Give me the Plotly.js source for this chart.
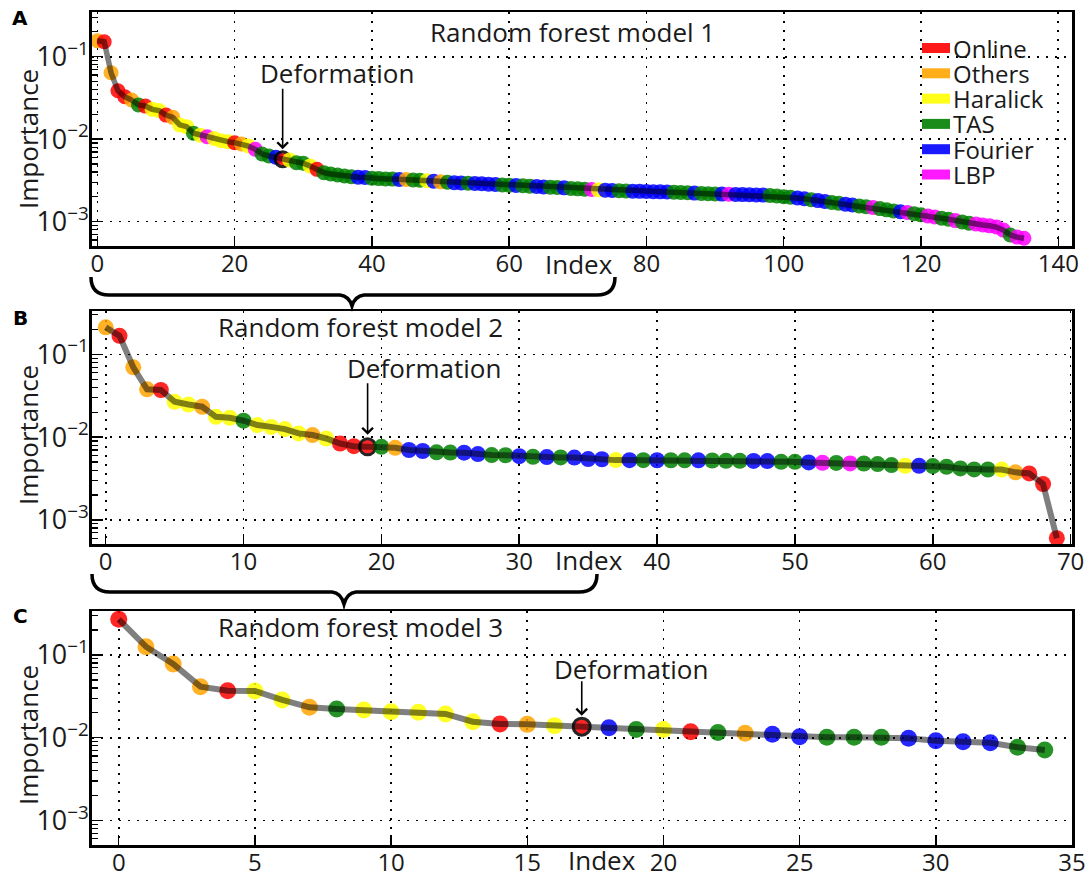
<!DOCTYPE html>
<html><head><meta charset="utf-8">
<script src="https://cdn.plot.ly/plotly-3.0.1.min.js"></script>
<style>html,body{margin:0;padding:0;background:#fff}#chart{width:1092px;height:877px}</style>
</head><body><div id="chart"></div>
<script>
// ---------- data ----------
const categoryNames  = ['Online','Others','Haralick','TAS','Fourier','LBP'];
const categoryCodes  = ['On','Ot','Ha','TA','Fo','LB'];
const categoryColors = ['#ff0000','#ffa500','#ffff00','#008000','#0000ff','#ff00ff'];

const panelTitles = ['Random forest model 1','Random forest model 2','Random forest model 3'];
const panelLetters = ['A','B','C'];
const deformationLabel = 'Deformation';
const xTitle = 'Index';
const yTitle = 'Importance';

const importanceA = [0.156,0.152,0.064,0.0387,0.0327,0.0298,0.0260,0.0252,0.0230,0.0222,
  0.0196,0.0184,0.0149,0.0142,0.0118,0.0112,0.0107,0.0102,0.0096,0.00933,
  0.00907,0.00875,0.00827,0.00754,0.00662,0.00626,0.00603,0.00570,0.00559,0.00519,
  0.00510,0.00473,0.00431,0.00393,0.00379,0.00368,0.00358,0.00351,0.00345,0.00344,
  0.00336,0.00333,0.00330,0.00328,0.00325,0.00324,0.00320,0.00318,0.00313,0.00310,
  0.00304,0.00301,0.00296,0.00295,0.00293,0.00290,0.00288,0.00285,0.00283,0.00279,
  0.00277,0.00275,0.00272,0.00269,0.00267,0.00264,0.00262,0.00260,0.00257,0.00252,
  0.00250,0.00248,0.00245,0.00243,0.00241,0.00239,0.00237,0.00236,0.00234,0.00233,
  0.00232,0.00231,0.00230,0.00229,0.00228,0.00226,0.00224,0.00222,0.00220,0.00218,
  0.00217,0.00216,0.00215,0.00214,0.00213,0.00212,0.00211,0.00210,0.00208,0.00205,
  0.00201,0.00198,0.00194,0.00190,0.00185,0.00180,0.00176,0.00171,0.00167,0.00163,
  0.00159,0.00155,0.00152,0.00149,0.00144,0.00139,0.00135,0.00132,0.00129,0.00125,
  0.00121,0.00117,0.00114,0.00110,0.00107,0.00103,0.00099,0.00096,0.00094,0.00091,
  0.00089,0.00086,0.00079,0.00069,0.00065,0.00063];
const categoryA = ['Ot','On','Ot','On','On','Ot','TA','On','Ha','Ha',
  'On','Ot','Ha','Ha','TA','Ha','LB','Ha','Ha','Ha',
  'On','Ot','Ha','LB','TA','TA','Fo','On','Ha','TA',
  'TA','Ha','On','TA','TA','TA','TA','TA','Fo','Fo',
  'TA','TA','TA','TA','Fo','Ot','TA','TA','Ha','Fo',
  'Ot','TA','Fo','Fo','TA','Fo','Fo','Fo','Fo','TA',
  'TA','Fo','TA','TA','Fo','Fo','TA','TA','Fo','TA',
  'TA','TA','LB','Ha','Fo','Fo','TA','TA','Fo','Fo',
  'Fo','Fo','Fo','Fo','TA','TA','TA','Fo','TA','TA',
  'TA','Fo','LB','Fo','Fo','Fo','Fo','Fo','TA','TA',
  'TA','TA','Fo','Fo','TA','Fo','Fo','TA','TA','Fo',
  'Fo','TA','TA','LB','TA','TA','TA','Fo','LB','TA',
  'TA','LB','LB','TA','TA','LB','TA','TA','LB','LB',
  'LB','LB','LB','TA','LB','LB'];
const deformationA = 27;

const importanceB = [0.212,0.167,0.0697,0.0378,0.0371,0.0267,0.0248,0.0233,0.0176,0.0171,
  0.0158,0.0140,0.0133,0.0125,0.0111,0.0106,0.00964,0.00838,0.00778,0.00764,
  0.00764,0.00743,0.00700,0.00680,0.00655,0.00652,0.00649,0.00624,0.00607,0.00605,
  0.00590,0.00579,0.00574,0.00569,0.00566,0.00543,0.00541,0.00528,0.00527,0.00527,
  0.00526,0.00526,0.00525,0.00525,0.00523,0.00518,0.00518,0.00517,0.00514,0.00504,
  0.00503,0.00495,0.00490,0.00489,0.00482,0.00481,0.00473,0.00460,0.00451,0.00450,
  0.00447,0.00439,0.00419,0.00408,0.00407,0.00406,0.00376,0.00365,0.00272,0.000603];
const categoryB = ['Ot','On','Ot','Ot','On','Ha','Ha','Ot','Ha','Ha',
  'TA','Ha','Ha','Ha','Ha','Ot','Ha','On','On','On',
  'TA','Ot','Fo','Fo','TA','TA','Fo','Fo','TA','TA',
  'Fo','TA','Fo','TA','Fo','Fo','Fo','Ha','Fo','TA',
  'Fo','TA','TA','Fo','TA','TA','TA','Fo','Fo','TA',
  'TA','Fo','LB','TA','LB','TA','TA','TA','Ha','Fo',
  'TA','TA','TA','TA','TA','Ha','Ot','On','On','On'];
const deformationB = 19;

const importanceC = [0.270,0.126,0.0778,0.0414,0.0370,0.0367,0.0286,0.0233,0.0222,0.0216,
  0.0206,0.0203,0.0194,0.0156,0.0147,0.0145,0.0140,0.0136,0.0132,0.0126,
  0.0126,0.0118,0.0116,0.0113,0.0110,0.0103,0.0101,0.0101,0.0101,0.00984,
  0.0092,0.00895,0.0087,0.00766,0.0071];
const categoryC = ['On','Ot','Ot','Ot','On','Ha','Ha','Ot','TA','Ha',
  'Ha','Ha','Ha','Ha','On','Ot','Ha','On','Fo','TA',
  'Ha','On','TA','Ot','Fo','Fo','TA','TA','TA','Fo',
  'Fo','Fo','Fo','TA','TA'];
const deformationC = 17;

const xTicksA = [0,20,40,60,80,100,120,140];
const xTicksB = [0,10,20,30,40,50,60,70];
const xTicksC = [0,5,10,15,20,25,30,35];

// ---------- layout helpers ----------
const W = 1092, H = 877;
const FONT = 'Open Sans, Noto Sans, sans-serif';
const TXT = '#1a1a1a';
const px = x => x / W;
const py = y => 1 - y / H;
const P = (x, y) => px(x).toFixed(5) + ',' + py(y).toFixed(5);

const panels = [
  {vals: importanceA, cats: categoryA, def: deformationA, ticks: xTicksA,
   dom: [91.5, 1072, 12, 246], xr: [-0.85, 142], yr: [-3.295, -0.458], msize: 15, lw: 5.5,
   title: [572, 32], defText: [337, 73], ay: -72, standoff: 10, index: [579, 264], imp: 139, letter: 18},
  {vals: importanceB, cats: categoryB, def: deformationB, ticks: xTicksB,
   dom: [91.5, 1072, 311, 544], xr: [-1.03, 70.1], yr: [-3.290, -0.477], msize: 16, lw: 6,
   title: [360, 327], defText: [424, 368], ay: -65, standoff: 12, index: [589, 560], imp: 435, letter: 318},
  {vals: importanceC, cats: categoryC, def: deformationC, ticks: xTicksC,
   dom: [91.5, 1072, 611, 845], xr: [-1.0, 35], yr: [-3.297, -0.468], msize: 17, lw: 6,
   title: [360, 627], defText: [631, 669], ay: -47, standoff: 11, index: [602, 860], imp: 735, letter: 616}
];

const traces = [];
const layout = {
  width: W, height: H, margin: {l: 0, r: 0, t: 0, b: 0},
  paper_bgcolor: '#fff', plot_bgcolor: '#fff', showlegend: false,
  font: {family: FONT, color: TXT},
  annotations: [], shapes: []
};

panels.forEach((p, k) => {
  const n = k === 0 ? '' : String(k + 1);
  const xa = 'x' + n, ya = 'y' + n;
  const idx = p.vals.map((_, i) => i);
  const colors = p.cats.map(c => categoryColors[categoryCodes.indexOf(c)]);
  const lineW = idx.map(i => i === p.def ? 3 : 0);
  traces.push({
    type: 'scatter', mode: 'markers', x: idx, y: p.vals, xaxis: xa, yaxis: ya,
    marker: {color: colors, size: p.msize, opacity: 0.85, line: {color: '#000', width: lineW}},
    hoverinfo: 'skip'
  });
  traces.push({
    type: 'scatter', mode: 'lines', x: idx, y: p.vals, xaxis: xa, yaxis: ya,
    line: {color: 'rgba(0,0,0,0.5)', width: p.lw}, hoverinfo: 'skip'
  });
  layout['xaxis' + n] = {
    domain: [px(p.dom[0]), px(p.dom[1])], range: p.xr, anchor: ya,
    tickmode: 'array', tickvals: p.ticks, ticktext: p.ticks.map(String),
    showgrid: true, gridcolor: '#000', gridwidth: 1.6, griddash: '2px,7px',
    zeroline: false, showline: true, linecolor: '#000', linewidth: 2.5, mirror: true,
    ticks: 'inside', ticklen: 10, tickwidth: 1.5, tickcolor: '#000',
    ticklabelstandoff: -5,
    tickfont: {family: FONT, size: 24, color: TXT}
  };
  layout['yaxis' + n] = {
    type: 'log', domain: [py(p.dom[3]), py(p.dom[2])], range: p.yr, anchor: xa,
    dtick: 1, exponentformat: 'power',
    showgrid: true, gridcolor: '#000', gridwidth: 1.6, griddash: '2px,7px',
    zeroline: false, showline: true, linecolor: '#000', linewidth: 2.5, mirror: true,
    ticks: 'inside', ticklen: 10, tickwidth: 1.5, tickcolor: '#000',
    ticklabelstandoff: -4,
    minor: {ticks: 'inside', ticklen: 6, tickwidth: 1.2, tickcolor: '#000', dtick: 'D1', showgrid: false},
    tickfont: {family: FONT, size: 21.5, color: TXT}
  };
  const A = layout.annotations;
  A.push({xref: 'paper', yref: 'paper', x: px(p.title[0]), y: py(p.title[1]), text: panelTitles[k],
    showarrow: false, xanchor: 'center', yanchor: 'middle', font: {family: FONT, size: 26, color: TXT}});
  A.push({xref: 'paper', yref: 'paper', x: px(p.defText[0]), y: py(p.defText[1]), text: deformationLabel,
    showarrow: false, xanchor: 'center', yanchor: 'middle', font: {family: FONT, size: 26, color: TXT}});
  A.push({xref: xa, yref: ya, x: p.def, y: Math.log10(p.vals[p.def]), text: '',
    showarrow: true, arrowhead: 4, arrowsize: 1.3, arrowwidth: 1.6, arrowcolor: '#000',
    ax: 0, ay: p.ay, standoff: p.standoff});
  A.push({xref: 'paper', yref: 'paper', x: px(p.index[0]), y: py(p.index[1]), text: xTitle,
    showarrow: false, xanchor: 'center', yanchor: 'middle', font: {family: FONT, size: 26, color: TXT}});
  A.push({xref: 'paper', yref: 'paper', x: px(28), y: py(p.imp), text: yTitle, textangle: -90,
    showarrow: false, xanchor: 'center', yanchor: 'middle', font: {family: FONT, size: 26, color: TXT}});
  A.push({xref: 'paper', yref: 'paper', x: px(20), y: py(p.letter), text: '<b>' + panelLetters[k] + '</b>',
    showarrow: false, xanchor: 'center', yanchor: 'middle', font: {family: 'DejaVu Sans, sans-serif', size: 20, color: '#000'}});
});

// legend (panel A, top right)
categoryNames.forEach((name, i) => {
  const yc = 48 + 25.3 * i;
  layout.shapes.push({type: 'rect', xref: 'paper', yref: 'paper',
    x0: px(922), x1: px(950), y0: py(yc + 5), y1: py(yc - 5),
    fillcolor: categoryColors[i], opacity: 0.9, line: {width: 0}});
  layout.annotations.push({xref: 'paper', yref: 'paper', x: px(951), y: py(yc), text: name,
    showarrow: false, xanchor: 'left', yanchor: 'middle', font: {family: FONT, size: 24, color: TXT}});
});

// curly braces linking panels
function brace(x0, x1, tip, yTop, yH, yTip) {
  return 'M ' + P(x0, yTop) + ' Q ' + P(x0, yH) + ' ' + P(x0 + 18, yH) +
    ' L ' + P(tip - 12, yH) + ' Q ' + P(tip - 3, yH + 1) + ' ' + P(tip, yTip) +
    ' Q ' + P(tip + 3, yH + 1) + ' ' + P(tip + 12, yH) +
    ' L ' + P(x1 - 18, yH) + ' Q ' + P(x1, yH) + ' ' + P(x1, yTop);
}
layout.shapes.push({type: 'path', xref: 'paper', yref: 'paper', path: brace(91, 615, 352, 277, 295, 306),
  line: {color: '#000', width: 3.5}});
layout.shapes.push({type: 'path', xref: 'paper', yref: 'paper', path: brace(92, 597, 344, 574, 592, 604),
  line: {color: '#000', width: 3.5}});

Plotly.newPlot('chart', traces, layout, {displayModeBar: false, staticPlot: true});
</script>
</body></html>
